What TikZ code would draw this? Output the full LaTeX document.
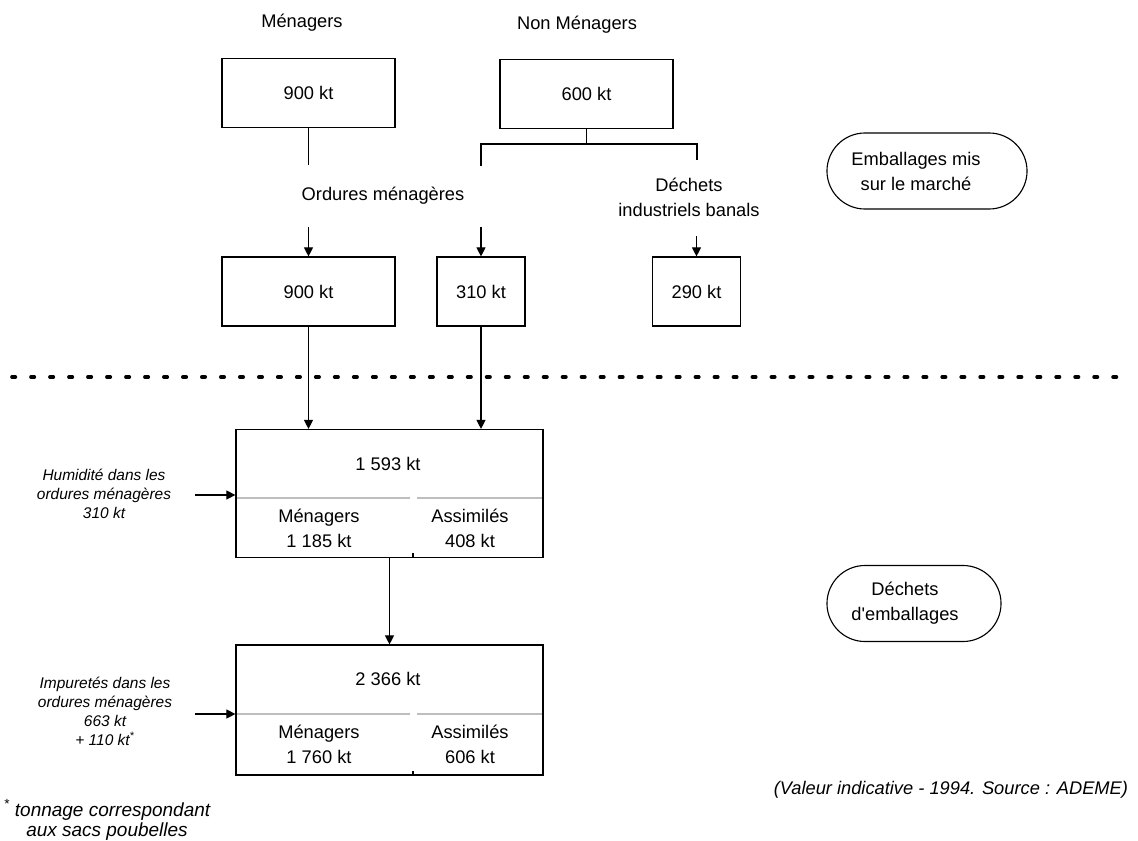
\documentclass[tikz,border=0pt]{standalone}
\usepackage{fontspec}
\setmainfont{Liberation Sans}[Ligatures=TeXOff]
\usetikzlibrary{positioning, arrows.meta}
\definecolor{sepGris}{RGB}{190,190,190}

\begin{document}
\begin{tikzpicture}[
    x=0.025cm, y=-0.025cm,
    flux/.style={rectangle, draw, line width=0.8pt, minimum width=4.325cm,
                 minimum height=1.725cm, font=\fontsize{13}{17.8}\selectfont},
    petit/.style={flux, minimum width=2.2cm},
    bloc/.style={rectangle, draw, line width=0.8pt, minimum width=7.675cm,
                 minimum height=3.2cm},
    etiq/.style={align=center, font=\fontsize{13}{17.8}\selectfont},
    note/.style={align=center, font=\fontsize{11}{13.5}\selectfont\itshape},
    bulle/.style={rectangle, draw, line width=0.8pt, rounded corners=0.95cm,
                  minimum height=1.9cm, align=center,
                  font=\fontsize{13}{17.8}\selectfont},
    fleche/.style={-{Triangle[length=6.5pt, width=6.5pt]}, line width=0.8pt},
    trait/.style={line width=0.8pt},
    sep/.style={sepGris, line width=1.2pt},
  ]
    \useasboundingbox (0,0) rectangle (1138,841);

    % emballages mis sur le marche
    \node[etiq] (titreM) at (302,23) {Ménagers};
    \node[etiq] (titreNM) at (577,25) {Non Ménagers};
    \node[flux] (M1) at (308.5,93) {900 kt};
    \node[flux] (NM) at (586.5,94) {600 kt};
    \node[etiq] (OM) at (383,196) {Ordures ménagères};
    \node[etiq] (DIB) at (689,197) {Déchets\\industriels banals};

    \node[flux] (M2) at (308.5,291.5) {900 kt};
    \node[petit] (OMA) at (481,291.5) {310 kt};
    \node[petit] (DIB2) at (696.5,291.5) {290 kt};

    \node[bulle, minimum width=5cm] (EMB) at (927,171)
        {Emballages mis\hspace*{0.55cm}\\sur le marché\hspace*{0.55cm}};

    % separation
    \draw[line width=2.6pt, dash pattern=on 2.4pt off 11.1pt, line cap=round]
        (12,377) -- (1128,377);

    % dechets d'emballages
    \node[bloc] (B1) at (389.5,493.5) {};
    \node[etiq] (T1) at (388,464) {1 593 kt};
    \node[etiq] (M3) at (319,528.5) {Ménagers\\1 185 kt};
    \node[etiq] (A3) at (470,528.5) {Assimilés\\408 kt};
    \draw[sep] (237,498) -- (410,498);
    \draw[sep] (417,498) -- (542,498);
    \draw[trait] (413,553) -- (413,557);

    \node[bloc, minimum height=3.25cm] (B2) at (389.5,710) {};
    \node[etiq] (T2) at (388,679) {2 366 kt};
    \node[etiq] (M4) at (319,744) {Ménagers\\1 760 kt};
    \node[etiq] (A4) at (470,744) {Assimilés\\606 kt};
    \draw[sep] (237,714) -- (410,714);
    \draw[sep] (417,714) -- (542,714);
    \draw[trait] (413,771) -- (413,775);

    \node[note] (HUM) at (104,494) {Humidité dans les\\ordures ménagères\\310 kt};
    \node[note] (IMP) at (105,711)
        {Impuretés dans les\\ordures ménagères\\663 kt\\+ 110 kt\textsuperscript{*}};
    \node[note, font=\fontsize{13.5}{14.2}\selectfont\itshape] (NOTE) at (107,820)
        {\textsuperscript{*} tonnage correspondant\\aux sacs poubelles};

    \node[bulle, minimum width=4.35cm] (DEM) at (914,603.5)
        {Déchets\hspace*{0.45cm}\\d'emballages\hspace*{0.45cm}};
    \node[note, anchor=east, font=\fontsize{13}{15}\selectfont\itshape] (SRC)
        at (1133,790) {(Valeur indicative - 1994. Source : ADEME)};

    % liaisons
    \coordinate (M1bas) at (308.5,165);
    \coordinate (FG) at (481,144);
    \coordinate (FD) at (697,144);
    \coordinate (FGbas) at (481,166);
    \coordinate (FDbas) at (697,160);
    \coordinate (OMhaut) at (308.5,227);
    \coordinate (OMAhaut) at (481,227);
    \coordinate (DIBhaut) at (696.5,236);
    \coordinate (HUMfin) at (195,495);
    \coordinate (IMPfin) at (195,714);

    \draw[trait] (M1) -- (M1bas);
    \draw[trait] (NM.south) -- (NM.south |- FG);
    \draw[trait] (FGbas) -- (FG) -- (FD) -- (FDbas);
    \draw[fleche] (OMhaut) -- (M2);
    \draw[fleche] (OMAhaut) -- (OMA);
    \draw[fleche] (DIBhaut) -- (DIB2);
    \draw[fleche] (M2.south) -- (M2.south |- B1.north);
    \draw[fleche] (OMA.south) -- (OMA.south |- B1.north);
    \draw[fleche] (B1) -- (B2);
    \draw[fleche] (HUMfin) -- (B1.west |- HUMfin);
    \draw[fleche] (IMPfin) -- (B2.west |- IMPfin);
\end{tikzpicture}
\end{document}
